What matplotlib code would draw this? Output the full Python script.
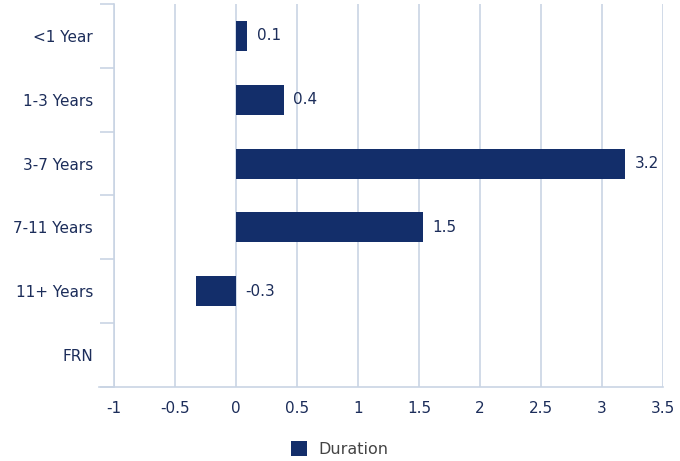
import matplotlib
matplotlib.use("Agg")
import matplotlib.pyplot as plt
import numpy as np

categories = ["<1 Year", "1-3 Years", "3-7 Years", "7-11 Years", "11+ Years", "FRN"]
values = [0.09, 0.39, 3.19, 1.53, -0.33, np.nan]
labels = ["0.1", "0.4", "3.2", "1.5", "-0.3", ""]
xticks = [-1, -0.5, 0, 0.5, 1, 1.5, 2, 2.5, 3, 3.5]
series_name = "Duration"

bar_color = "#132e6a"
text_color = "#1c2d5a"
grid_color = "#c9d4e4"

plt.rcParams['font.family'] = ['DejaVu Sans']
fig = plt.figure(figsize=(6.8, 4.61), dpi=100)
ax = fig.add_axes([114/680, 1-387/461, (663-114)/680, (387-4)/461])

y = np.arange(len(categories))
ax.barh(y, values, height=0.47, color=bar_color, label=series_name, zorder=3)
ax.set_ylim(len(categories)-0.5, -0.5)
ax.set_xlim(-1, 3.5)
ax.set_xticks(xticks)
ax.set_xticklabels([f"{t:g}" for t in xticks])
ax.set_yticks(y)
ax.set_yticklabels(categories)
ax.set_yticks(np.arange(-0.5, len(categories)), minor=True)
ax.tick_params(axis='y', which='major', length=0, pad=15, labelsize=11, labelcolor=text_color)
ax.tick_params(axis='y', which='minor', length=10, width=1.2, color=grid_color)
ax.tick_params(axis='x', length=0, pad=10, labelsize=11, labelcolor=text_color)
ax.grid(axis='x', color=grid_color, linewidth=1.2, zorder=0)
for s in ['top', 'right']:
    ax.spines[s].set_visible(False)
ax.spines['left'].set_color(grid_color)
ax.spines['left'].set_linewidth(1.2)
ax.spines['bottom'].set_color(grid_color)
ax.spines['bottom'].set_linewidth(1.2)
ax.spines['bottom'].set_bounds(-1.12, 3.5)
ax.spines['bottom'].set_clip_on(False)

for yi, v, lab in zip(y, values, labels):
    if np.isnan(v):
        continue
    ax.annotate(lab, (max(v, 0), yi), xytext=(7, 0), textcoords='offset points',
                va='center', ha='left', fontsize=11, color=text_color, zorder=4)

leg = fig.legend(loc='lower center', bbox_to_anchor=(0.5, -0.012), frameon=False,
                 fontsize=11.5, handlelength=1.0, handleheight=1.0, handletextpad=0.7,
                 borderaxespad=0.2)
for t in leg.get_texts():
    t.set_color("#444444")

fig.savefig("out.png", dpi=100)
